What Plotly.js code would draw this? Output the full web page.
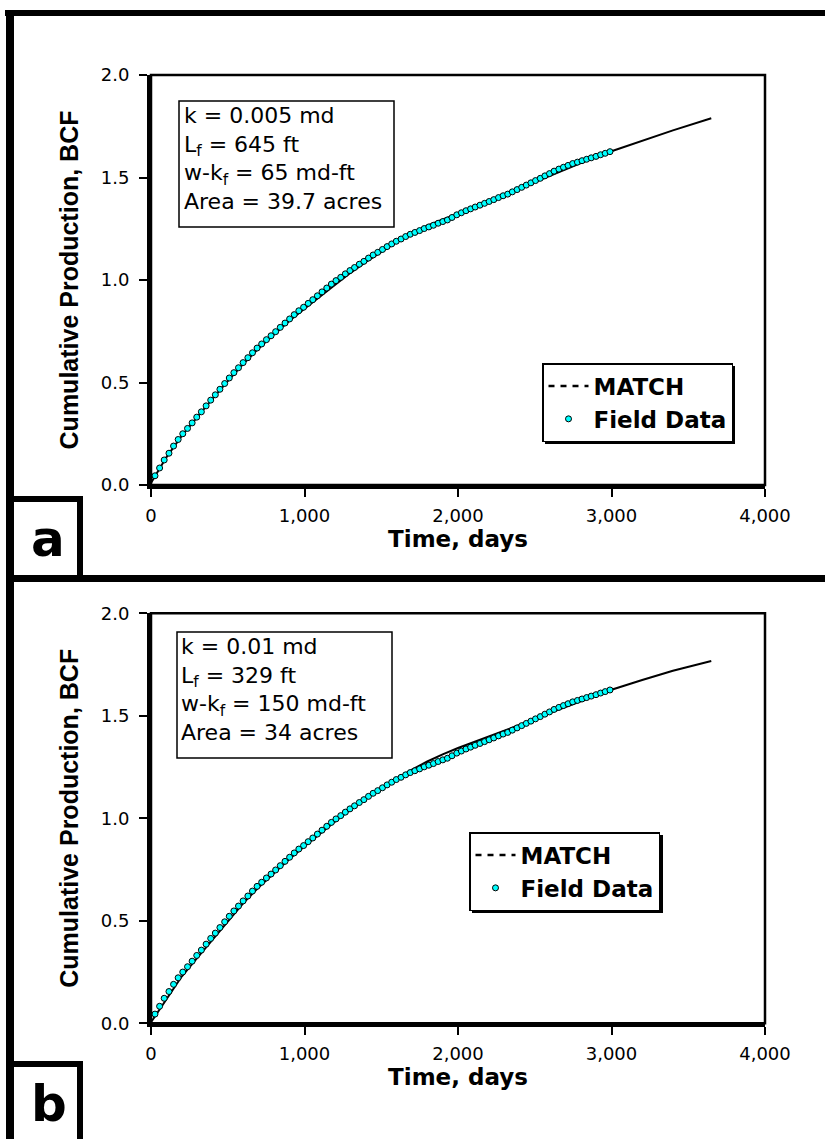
<!DOCTYPE html>
<html><head><meta charset="utf-8">
<script src="https://cdn.plot.ly/plotly-3.0.1.min.js"></script>
<style>html,body{margin:0;padding:0;background:#fff}#chart{width:825px;height:1139px}</style>
</head><body><div id="chart"></div>
<script>
// ---- data ----
const fieldDays = [26,56,86,117,147,177,207,238,268,298,328,359,389,419,449,480,510,540,570,600,631,661,691,721,752,782,812,842,873,903,933,963,994,1024,1054,1084,1114,1145,1175,1205,1236,1266,1296,1326,1357,1387,1417,1447,1477,1508,1538,1568,1598,1629,1659,1689,1719,1750,1780,1810,1840,1871,1901,1931,1961,1992,2022,2052,2082,2112,2143,2173,2203,2233,2264,2294,2324,2354,2385,2415,2445,2475,2505,2536,2566,2596,2626,2657,2687,2717,2747,2778,2808,2838,2868,2899,2929,2959,2990];
const fieldBCF = [0.045,0.083,0.122,0.155,0.19,0.222,0.25,0.276,0.303,0.331,0.357,0.386,0.414,0.44,0.467,0.495,0.522,0.548,0.572,0.597,0.621,0.645,0.668,0.688,0.709,0.728,0.748,0.769,0.79,0.81,0.831,0.85,0.867,0.886,0.904,0.923,0.942,0.961,0.98,0.997,1.013,1.03,1.046,1.061,1.077,1.091,1.107,1.122,1.135,1.149,1.163,1.176,1.189,1.2,1.212,1.223,1.232,1.241,1.251,1.259,1.267,1.277,1.285,1.293,1.305,1.318,1.328,1.338,1.347,1.356,1.365,1.374,1.383,1.392,1.402,1.411,1.419,1.43,1.441,1.452,1.463,1.474,1.485,1.496,1.508,1.519,1.531,1.541,1.55,1.559,1.568,1.575,1.582,1.589,1.596,1.603,1.611,1.618,1.626];
const matchDays = [0,50,100,200,300,400,500,600,700,800,900,1000,1100,1200,1300,1400,1500,1600,1700,1800,1900,2000,2200,2400,2600,2800,3000,3200,3400,3650];
const matchA = [0.01,0.075,0.135,0.24,0.332,0.42,0.507,0.59,0.666,0.734,0.8,0.86,0.918,0.978,1.035,1.088,1.138,1.185,1.228,1.265,1.295,1.322,1.385,1.447,1.508,1.57,1.628,1.68,1.73,1.789];
const matchB = [0.005,0.06,0.12,0.228,0.318,0.408,0.5,0.585,0.662,0.732,0.8,0.864,0.926,0.985,1.043,1.098,1.148,1.195,1.238,1.277,1.312,1.343,1.398,1.455,1.515,1.572,1.627,1.675,1.72,1.767];
const xTickVals = [0,1000,2000,3000,4000];
const xTickText = ['0','1,000','2,000','3,000','4,000'];
const yTickVals = [0,0.5,1,1.5,2];
const yTickText = ['0.0','0.5','1.0','1.5','2.0'];
const paramsA = ['k = 0.005 md','L<sub>f</sub> = 645 ft','w-k<sub>f</sub> = 65 md-ft','Area = 39.7 acres'];
const paramsB = ['k = 0.01 md','L<sub>f</sub> = 329 ft','w-k<sub>f</sub> = 150 md-ft','Area = 34 acres'];
const seriesNames = ['MATCH','Field Data'];
const panelLabels = ['a','b'];

// ---- layout helpers ----
const W = 825, H = 1139;
const px = x => x / W, py = y => 1 - y / H;
function bar(x0, y0, x1, y1) {
  return {type:'rect', xref:'paper', yref:'paper', x0:px(x0), x1:px(x1), y0:py(y1), y1:py(y0),
          fillcolor:'#000', line:{width:0}, layer:'above'};
}
function box(x0, y0, x1, y1) {
  return {type:'rect', xref:'paper', yref:'paper', x0:px(x0), x1:px(x1), y0:py(y1), y1:py(y0),
          fillcolor:'#fff', line:{color:'#000', width:1.5}, layer:'above'};
}
const HF = 'DejaVu Sans';
const RF = 'Liberation Sans, Arial, sans-serif';

function lineTrace(y, xa, ya) {
  return {x: matchDays, y: y, xaxis: xa, yaxis: ya, mode:'lines', line:{color:'#000', width:2},
          showlegend:false, hoverinfo:'skip'};
}
function legendLine(xa, ya, lg) {
  return {x:[null], y:[null], xaxis: xa, yaxis: ya, mode:'lines', name: seriesNames[0], legend: lg,
          line:{color:'#000', width:2.5, dash:'6px,6px'}};
}
function fieldTrace(xa, ya, lg) {
  return {x: fieldDays, y: fieldBCF, xaxis: xa, yaxis: ya, mode:'markers', name: seriesNames[1], legend: lg,
          marker:{size:6, color:'#00FFFF', line:{color:'#000', width:1}}};
}

const data = [
  lineTrace(matchA, 'x', 'y'), legendLine('x','y','legend'), fieldTrace('x','y','legend'),
  lineTrace(matchB, 'x2', 'y2'), legendLine('x2','y2','legend2'), fieldTrace('x2','y2','legend2')
];

function xAxis(anchor) {
  return {domain:[px(151), px(765)], anchor: anchor, range:[0,4000], tickvals: xTickVals, ticktext: xTickText,
          showgrid:false, zeroline:false, showline:true, linecolor:'#000', linewidth:4,
          ticks:'outside', ticklen:8, tickwidth:2, tickcolor:'#000', ticklabelstandoff:3,
          tickfont:{family:HF, size:18, color:'#000'},
          title:{text:'Time, days', font:{family:HF, size:23, weight:'bold', color:'#000'}, standoff:3}};
}
function yAxis(anchor, d) {
  return {domain: d, anchor: anchor, range:[0,2], tickvals: yTickVals, ticktext: yTickText,
          showgrid:false, zeroline:false, showline:true, linecolor:'#000', linewidth:4,
          ticks:'outside', ticklen:8, tickwidth:2, tickcolor:'#000', ticklabelstandoff:6,
          tickfont:{family:HF, size:18, color:'#000'},
          title:{text:'Cumulative Production, BCF', font:{family:RF, size:25, weight:'bold', color:'#000'}, standoff:16}};
}
function legendBox(x, y) {
  return {x:px(x), y:py(y), xanchor:'left', yanchor:'top', bgcolor:'#fff', bordercolor:'#000', borderwidth:1.5,
          font:{family:HF, size:23, weight:'bold', color:'#000'}, itemwidth:40, tracegroupgap:0};
}
function paramText(lines, x, yc) {
  return {xref:'paper', yref:'paper', x:px(x), y:py(yc), xanchor:'left', yanchor:'middle', showarrow:false,
          text: lines.join('<br>'), align:'left', font:{family:HF, size:22, color:'#000'}};
}
function panelLabel(t, x, y) {
  return {xref:'paper', yref:'paper', x:px(x), y:py(y), xanchor:'center', yanchor:'middle', showarrow:false,
          text: t, font:{family:HF, size:50, weight:'bold', color:'#000'}};
}

const layout = {
  width: W, height: H, margin:{l:0, r:0, t:0, b:0}, paper_bgcolor:'#fff', plot_bgcolor:'#fff',
  showlegend:true,
  xaxis: xAxis('y'), yaxis: yAxis('x', [py(485), py(75)]),
  xaxis2: xAxis('y2'), yaxis2: yAxis('x2', [py(1023.3), py(613.3)]),
  legend: legendBox(542, 363), legend2: legendBox(469, 832),
  annotations: [
    paramText(paramsA, 182, 158.5), paramText(paramsB, 179, 689.5),
    panelLabel(panelLabels[0], 47.5, 539), panelLabel(panelLabels[1], 49, 1104)
  ],
  shapes: [
    {type:'rect', xref:'x domain', yref:'y domain', x0:0, x1:1, y0:0, y1:1, line:{color:'#000', width:2.5}, layer:'above'},
    {type:'rect', xref:'x2 domain', yref:'y2 domain', x0:0, x1:1, y0:0, y1:1, line:{color:'#000', width:2.5}, layer:'above'},
    box(179, 101, 394, 227), box(177, 632, 392, 758),
    bar(545, 366, 735, 444), bar(472, 835, 663, 913),
    bar(5, 10, 825, 16), bar(6, 10, 14, 1139), bar(6, 575, 825, 582),
    bar(6, 496, 83, 502), bar(77, 496, 83, 578),
    bar(6, 1061, 83, 1067), bar(77, 1061, 83, 1139)
  ]
};
Plotly.newPlot('chart', data, layout, {displayModeBar:false, staticPlot:true});
</script></body></html>
